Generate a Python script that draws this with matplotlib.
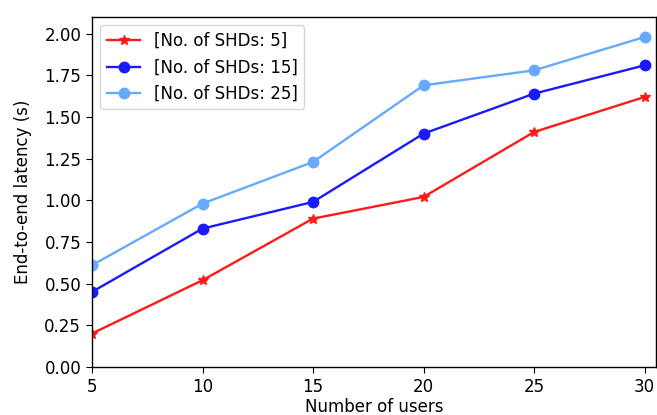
import matplotlib.pyplot as plt

# Data
users = [5, 10, 15, 20, 25, 30]
latency_shd5 = [0.20, 0.52, 0.89, 1.02, 1.41, 1.62]
latency_shd15 = [0.45, 0.83, 0.99, 1.40, 1.64, 1.81]
latency_shd25 = [0.61, 0.98, 1.23, 1.69, 1.78, 1.98]
y_ticks = [0.0, 0.25, 0.5, 0.75, 1.0, 1.25, 1.5, 1.75, 2.0]

plt.rcParams['font.size'] = 12
plt.rcParams['xtick.major.size'] = 4.3
plt.rcParams['ytick.major.size'] = 4.3
plt.rcParams['axes.linewidth'] = 1.0

fig = plt.figure(figsize=(6.57, 4.15), dpi=100)
ax = fig.add_axes([0.140, 0.116, 0.858, 0.843])

ax.plot(users, latency_shd5, color='#ff1a1a', marker='*', markersize=7.5,
        linewidth=1.7, label='[No. of SHDs: 5]')
ax.plot(users, latency_shd15, color='#1a1aff', marker='o', markersize=7.5,
        linewidth=1.7, label='[No. of SHDs: 15]')
ax.plot(users, latency_shd25, color='#66aaff', marker='o', markersize=7.5,
        linewidth=1.7, label='[No. of SHDs: 25]')

ax.set_xlim(5, 30.5)
ax.set_ylim(0, 2.1)
ax.set_xticks(users)
ax.set_yticks(y_ticks)
ax.set_yticklabels([f'{v:.2f}' for v in y_ticks])
ax.set_xlabel('Number of users', labelpad=2)
ax.set_ylabel('End-to-end latency (s)', labelpad=9)
ax.legend(loc='upper left')

fig.savefig('out.png', dpi=100)
